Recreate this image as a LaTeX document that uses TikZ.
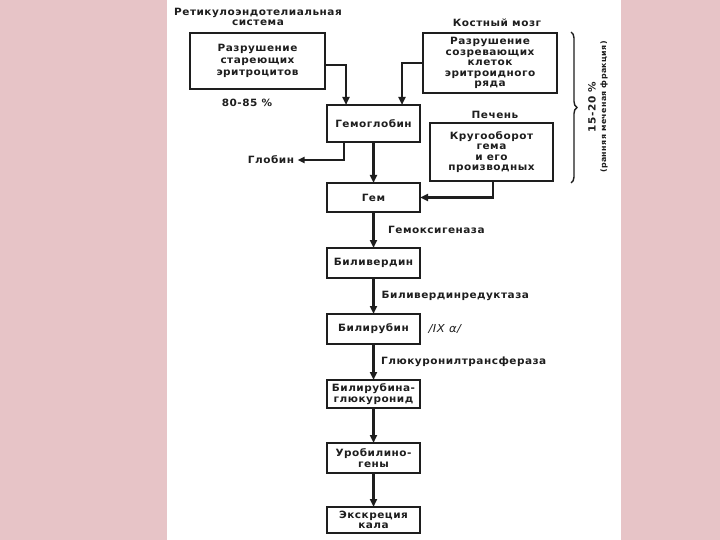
\documentclass[tikz,border=0pt]{standalone}
\usepackage{fontspec}
\setmainfont{DejaVu Sans}[FakeStretch=1.05,LetterSpace=5]
\usetikzlibrary{arrows.meta,positioning,decorations.pathreplacing}
\definecolor{slidepink}{RGB}{231,196,199}
\definecolor{scanink}{RGB}{30,30,30}

\begin{document}
\begin{tikzpicture}[
    x=1pt, y=-1pt,
    font=\fontsize{10}{10.5}\selectfont\bfseries,
    text=scanink,
    node distance=36pt,
    stagebox/.style={draw=scanink, line width=1.7pt, align=center, minimum width=93pt, minimum height=29pt, inner sep=2pt, outer sep=0pt},
    sidebox/.style={draw=scanink, line width=1.7pt, align=center, inner sep=2pt, outer sep=0pt},
    flow/.style={-{Triangle[length=8pt,width=7pt]}, line width=2.8pt, draw=scanink},
    branch/.style={-{Triangle[length=7pt,width=6pt]}, line width=1.8pt, draw=scanink},
    enzyme/.style={midway, font=\fontsize{10}{10.5}\selectfont\bfseries}
]
    % Slide background
    \fill[slidepink] (0,0) rectangle (720,540);
    \fill[white] (167,0) rectangle (621,540);
    \useasboundingbox (0,0) rectangle (720,540);

    % Sources of heme
    \node[align=center] (resystem) at (258,17) {Ретикулоэндотелиальная\\система};
    \node[sidebox, minimum width=135pt, minimum height=56pt, font=\fontsize{10}{12}\selectfont\bfseries] (aging) at (257.5,61) {Разрушение\\стареющих\\эритроцитов};
    \node (share) at (247,103) {80-85~\%};
    \node (marrowlabel) at (497,23) {Костный мозг};
    \node[sidebox, minimum width=134pt, minimum height=60pt] (marrow) at (490,63) {Разрушение\\созревающих\\клеток\\эритроидного\\ряда};
    \node (liverlabel) at (495,115) {Печень};
    \node[sidebox, minimum width=123pt, minimum height=58pt] (liver) at (491.5,152) {Кругооборот\\гема\\и его\\производных};

    % Main column
    \node[stagebox, minimum height=37pt] (hemoglobin) at (373.5,123.5) {Гемоглобин};
    \node[stagebox, below=41pt of hemoglobin] (heme) {Гем};
    \node[stagebox, below=of heme, minimum height=30pt] (biliverdin) {Биливердин};
    \node[stagebox, below=of biliverdin, minimum height=30pt] (bilirubin) {Билирубин};
    \node[stagebox, below=of bilirubin, minimum height=28pt] (glucuronide) {Билирубина-\\глюкуронид};
    \node[stagebox, below=35pt of glucuronide, minimum height=30pt] (urobilinogen) {Уробилино-\\гены};
    \node[stagebox, below=34pt of urobilinogen, minimum height=26pt] (excretion) {Экскреция\\кала};
    \node (globin) at (271,160) {Глобин};
    \node[right=5pt of bilirubin, font=\fontsize{11}{12}\selectfont\itshape] (isomer) {/IX α/};

    % Connections
    \draw[flow] ([yshift=-4pt]aging.east) -| ([xshift=-27.5pt]hemoglobin.north);
    \draw[flow] (marrow.west) -| ([xshift=28.5pt]hemoglobin.north);
    \draw[flow] ([xshift=1.5pt]liver.south) |- (heme.east);
    \draw[branch] ([xshift=-29.5pt]hemoglobin.south) |- (globin.east);
    \draw[flow] (hemoglobin) -- (heme);
    \draw[flow] (heme) -- (biliverdin) node[enzyme, right=10pt] {Гемоксигеназа};
    \draw[flow] (biliverdin) -- (bilirubin) node[enzyme, right=3.5pt] {Биливердинредуктаза};
    \draw[flow] (bilirubin) -- (glucuronide) node[enzyme, right=3pt] {Глюкуронилтрансфераза};
    \draw[flow] (glucuronide) -- (urobilinogen);
    \draw[flow] (urobilinogen) -- (excretion);

    % Early labelled fraction
    \coordinate (bracetop) at (571,32);
    \coordinate (bracebottom) at (571,183);
    \draw[decorate, decoration={brace, amplitude=6pt}, line width=1.4pt, draw=scanink] (bracetop) -- (bracebottom);
    \node[rotate=90] (fraction) at (592,107) {15-20~\%};
    \node[rotate=90, font=\fontsize{7.5}{9}\selectfont\bfseries] (early) at (604,107) {(ранняя меченая фракция)};
\end{tikzpicture}
\end{document}
